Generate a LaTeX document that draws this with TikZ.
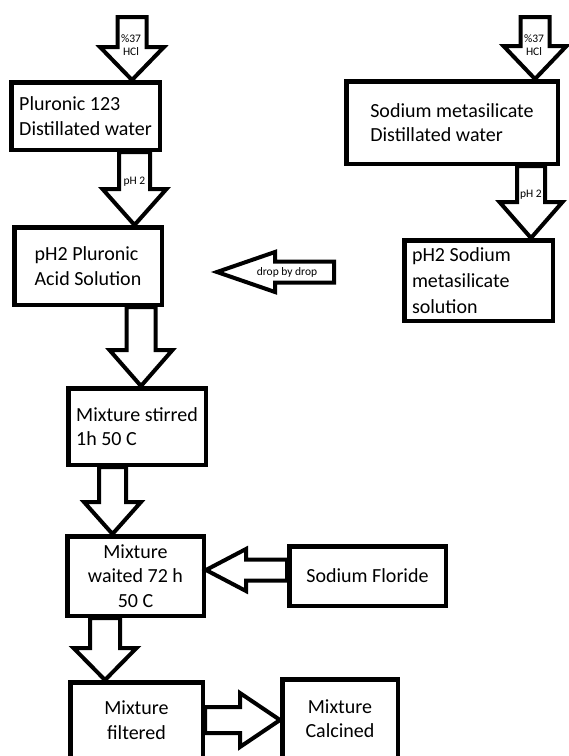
\documentclass[tikz,border=0pt]{standalone}
\usepackage{fontspec}
\setmainfont{Carlito}
\usetikzlibrary{calc}

\tikzset{
    box/.style={draw, line width=4.5pt, inner sep=0pt, font=\fontsize{20}{24.5}\selectfont},
    fat/.style={draw, line width=4pt, line join=miter},
    tag/.style={font=\fontsize{11.5}{13.5}\selectfont, align=center, inner sep=0pt},
}

% hollow block arrow: from, to, half shaft, half head, head length
\newcommand{\fatarrow}[5]{%
    \coordinate (neck) at ($(#2)!#5pt!(#1)$);
    \draw[fat] ($(#1)!#3pt!90:(#2)$) -- ($(neck)!#3pt!90:(#2)$) -- ($(neck)!#4pt!90:(#2)$)
        -- (#2) -- ($(neck)!#4pt!-90:(#2)$) -- ($(neck)!#3pt!-90:(#2)$) -- ($(#1)!#3pt!-90:(#2)$) -- cycle;
}

\begin{document}
\begin{tikzpicture}[x=1pt, y=-1pt]
            \clip (0,0) rectangle (569,756);

            \node[box, minimum width=148.5, minimum height=67.5, align=left] (pluronic) at (85.5, 116)   {Pluronic 123\\Distillated water};
            \node[box, minimum width=211.5, minimum height=82.5, align=left] (sodium)   at (452, 122.5)  {Sodium metasilicate\\Distillated water};
            \node[box, minimum width=147.5, minimum height=77.5, align=left] (acid)     at (88, 266)     {pH2 Pluronic\\Acid Solution};
            \node[box, minimum width=148.5, minimum height=80.5, align=flush left, text width=133,
                  font=\fontsize{20}{26}\selectfont]                          (silicate) at (478.5, 280.5) {pH2 Sodium\\metasilicate\\solution};
            \node[box, minimum width=137.5, minimum height=76.5, align=left] (stirred)  at (137, 426.5)  {Mixture stirred\\1h 50 C};
            \node[box, minimum width=136.5, minimum height=79.5, align=center] (waited) at (135.5, 576)  {Mixture\\waited 72 h\\50 C};
            \node[box, minimum width=156.5, minimum height=59.5] (floride)               at (367.5, 576)  {Sodium Floride};
            \node[box, minimum width=132.5, minimum height=75.5, align=center] (filtered) at (136.5, 720) {Mixture\\filtered};
            \node[box, minimum width=115.5, minimum height=78.5, align=center] (calcined) at (340, 718.5) {Mixture\\Calcined};

            \coordinate (hclleft)  at (132, 17);
            \coordinate (hclright) at (535, 17);
            \coordinate (phleft)   at (134.5, 182);
            \coordinate (phright)  at (531, 195);
            \coordinate (dropstart) at (334, 272);
            \coordinate (dropend)   at (217, 272);

            \fatarrow{hclleft}{hclleft |- pluronic.north}{14.5}{32}{33}
            \fatarrow{hclright}{hclright |- sodium.north}{14.5}{31.5}{33}
            \fatarrow{phleft |- pluronic.south}{phleft |- acid.north}{15.5}{32}{36}
            \fatarrow{phright |- sodium.south}{phright |- silicate.north}{14}{31.5}{36}
            \fatarrow{dropstart}{dropend}{10.5}{20}{58}
            \fatarrow{acid.south -| 141,0}{stirred.north -| 141,0}{14.5}{31.5}{36}
            \fatarrow{stirred.south -| 112.5,0}{waited.north -| 112.5,0}{13.5}{28.5}{32}
            \fatarrow{floride.west |- 0,570}{waited.east |- 0,570}{10.5}{21}{40}
            \fatarrow{waited.south -| 105,0}{filtered.north -| 105,0}{15}{31.5}{32}
            \fatarrow{filtered.east |- 0,720}{calcined.west |- 0,720}{13}{27}{40}

            \node[tag] (hcltxtl) at (131, 45)  {\%37\\HCl};
            \node[tag] (hcltxtr) at (534, 45)  {\%37\\HCl};
            \node[tag] (phtxtl)  at (phleft)   {pH 2};
            \node[tag] (phtxtr)  at (phright)  {pH 2};
            \node[tag] (droptxt) at (287, 272) {drop by drop};
        \end{tikzpicture}
\end{document}
